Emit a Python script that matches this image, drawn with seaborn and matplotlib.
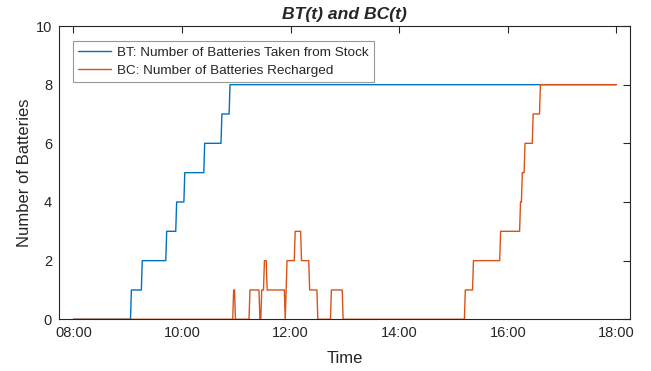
import matplotlib
matplotlib.use("Agg")
import matplotlib.pyplot as plt
import matplotlib.dates as mdates
import seaborn as sns
import pandas as pd

# ---- data ----
bt_times = ["08:00", "09:03", "09:04", "09:15", "09:16", "09:42", "09:43", "09:53", "09:54",
            "10:02", "10:03", "10:24", "10:25", "10:43", "10:44", "10:52", "10:53", "18:00"]
bt_values = [0, 0, 1, 1, 2, 2, 3, 3, 4, 4, 5, 5, 6, 6, 7, 7, 8, 8]

bc_times = ["08:00", "10:56", "10:57", "10:58", "10:59", "11:14", "11:15", "11:25", "11:26",
            "11:27", "11:28", "11:30", "11:31", "11:33", "11:34", "11:53", "11:54", "11:56",
            "12:04", "12:05", "12:11", "12:12", "12:20", "12:21", "12:29", "12:30", "12:44",
            "12:45", "12:57", "12:58", "15:12", "15:13", "15:21", "15:22", "15:51", "15:52",
            "16:13", "16:14", "16:15", "16:16", "16:18", "16:19", "16:27", "16:28", "16:35",
            "16:36", "18:00"]
bc_values = [0, 0, 1, 1, 0, 0, 1, 1, 0,
             0, 1, 1, 2, 2, 1, 1, 0, 2,
             2, 3, 3, 2, 2, 1, 1, 0, 0,
             1, 1, 0, 0, 1, 1, 2, 2, 3,
             3, 4, 4, 5, 5, 6, 6, 7, 7,
             8, 8]

series_labels = ["BT: Number of Batteries Taken from Stock", "BC: Number of Batteries Recharged"]
x_ticks = ["08:00", "10:00", "12:00", "14:00", "16:00", "18:00"]
y_ticks = [0, 2, 4, 6, 8, 10]
x_limits = ["07:44", "18:15"]

day = "2020-01-01 "
to_dt = lambda ts: pd.to_datetime([day + t for t in ts])

bt = pd.DataFrame({"Time": to_dt(bt_times), "Value": bt_values})
bc = pd.DataFrame({"Time": to_dt(bc_times), "Value": bc_values})

sns.set_style("white")
plt.rcParams["font.family"] = ["Liberation Sans", "DejaVu Sans"]
text_col = "#262626"
plt.rcParams["text.color"] = text_col
plt.rcParams["axes.labelcolor"] = text_col
plt.rcParams["xtick.color"] = text_col
plt.rcParams["ytick.color"] = text_col

fig = plt.figure(figsize=(6.51, 3.71), dpi=100)
ax = fig.add_axes([59 / 651, 1 - 319.3 / 371, (630 - 59) / 651, (319.3 - 26) / 371])

sns.lineplot(data=bt, x="Time", y="Value", ax=ax, color="#0072BD", linewidth=1.0,
             estimator=None, sort=False, label=series_labels[0])
sns.lineplot(data=bc, x="Time", y="Value", ax=ax, color="#D95319", linewidth=1.0,
             estimator=None, sort=False, label=series_labels[1])

ax.set_xlim(to_dt(x_limits))
ax.set_ylim(0, 10)
ax.set_xticks(to_dt(x_ticks))
ax.xaxis.set_major_formatter(mdates.DateFormatter("%H:%M"))
ax.set_yticks(y_ticks)

for s in ax.spines.values():
    s.set_visible(True)
    s.set_color(text_col)
    s.set_linewidth(0.8)
ax.tick_params(direction="in", length=5, width=0.8, top=True, right=True,
               labelsize=10.5, pad=5)

ax.set_xlabel("Time", fontsize=12, labelpad=8)
ax.set_ylabel("Number of Batteries", fontsize=12, labelpad=3)
ax.set_title("BT(t) and BC(t)", fontsize=12.6, fontweight="bold", fontstyle="italic", pad=5)

leg = ax.legend(loc="upper left", bbox_to_anchor=(0.0245, 0.949), borderaxespad=0,
                fontsize=9.7, frameon=True, fancybox=False, handlelength=2.4,
                handletextpad=0.45, borderpad=0.4, labelspacing=0.42)
leg.get_frame().set_edgecolor("#7f7f7f")
leg.get_frame().set_linewidth(0.8)

fig.savefig("out.png", dpi=100)
